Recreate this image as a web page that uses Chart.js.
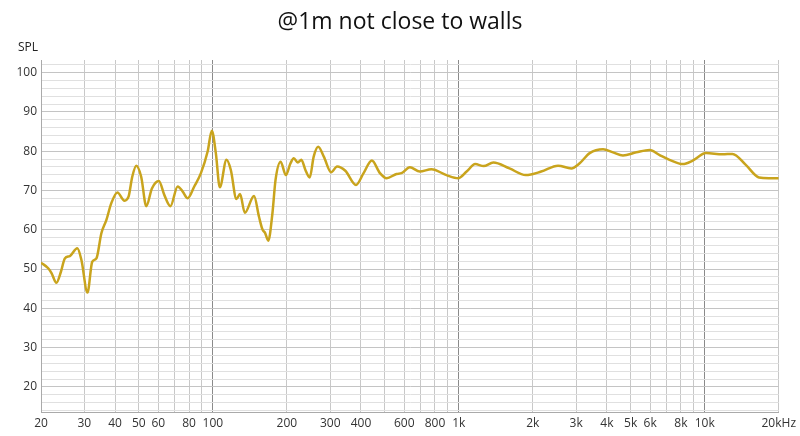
<!DOCTYPE html>
<html>
<head>
<meta charset="utf-8">
<script src="https://cdn.jsdelivr.net/npm/chart.js@4"></script>
<style>
  html, body { margin: 0; padding: 0; background: #fff; }
  #wrap { width: 800px; height: 436px; position: relative; }
</style>
</head>
<body>
<div id="wrap"><canvas id="myChart" width="800" height="436"></canvas></div>
<script>
const freqs = [20, 21.4, 22.1, 23.1, 24.1, 25, 26.2, 28.1, 29.2, 30.9, 32.3, 33.6, 35.2, 36.9, 38.6,
  40.9, 43.7, 45.4, 47, 48.8, 51.1, 53.6, 56.5, 60.3, 63.5, 67.2, 71.9, 75.4, 79, 84, 89.4, 95.2,
  99, 102.8, 106.7, 113.6, 118.3, 124.7, 129, 134.8, 147, 154, 159, 163, 168, 174.5, 179.8, 188.6,
  198, 206.8, 213.3, 221.4, 229, 237.8, 247.6, 257, 268, 282.5, 302.6, 320, 345.6, 381.9, 410,
  443, 478, 509, 558, 585, 632, 694, 774, 891, 995, 1076, 1166, 1262, 1382, 1607, 1872, 2163,
  2533, 2867, 3101, 3406, 3861, 4237, 4650, 5272, 5975, 6556, 7192, 8143, 8934, 10118, 11821,
  12970, 14690, 16620, 18230, 20000];
const spl = [51.6, 50.2, 48.9, 46.5, 49.3, 52.7, 53.3, 55.3, 52.3, 44.0, 51.8, 52.7, 59.1, 62.5, 66.7,
  69.5, 67.4, 68.4, 73.5, 76.3, 73.5, 66.0, 70.5, 72.4, 68.8, 66.0, 71.0, 69.7, 68.0, 71.0, 74.4, 79.9,
  85.2, 79.5, 70.8, 77.8, 75.2, 67.8, 69.1, 64.3, 68.6, 63.3, 60.1, 59.2, 57.2, 64.0, 72.7, 77.3,
  73.9, 76.9, 78.2, 77.1, 77.8, 75.2, 73.3, 78.6, 81.1, 78.6, 74.6, 76.1, 75.0, 71.4, 74.4,
  77.6, 74.4, 73.1, 74.2, 74.4, 75.9, 74.8, 75.4, 73.9, 73.1, 74.8, 76.7, 76.2, 77.1, 75.6, 73.9, 74.8,
  76.3, 75.6, 76.9, 79.5, 80.5, 79.7, 78.9, 79.7, 80.3, 79.0, 77.8, 76.7, 77.6, 79.5, 79.2,
  79.3, 76.5, 73.3, 73.1, 73.1];

// grid lines on the x axis, and which of them carry a label
const xGrid = [20, 30, 40, 50, 60, 70, 80, 90, 100, 200, 300, 400, 500, 600, 700, 800, 900,
  1000, 2000, 3000, 4000, 5000, 6000, 7000, 8000, 9000, 10000, 20000];
const xLabels = { 20: '20', 30: '30', 40: '40', 50: '50', 60: '60', 80: '80', 100: '100', 200: '200',
  300: '300', 400: '400', 600: '600', 800: '800', 1000: '1k', 2000: '2k', 3000: '3k', 4000: '4k',
  5000: '5k', 6000: '6k', 8000: '8k', 10000: '10k', 20000: '20kHz' };
const yGrid = [];
for (let v = 14; v <= 102; v += 2) yGrid.push(v);
const yLabels = [20, 30, 40, 50, 60, 70, 80, 90, 100];

const title = '@1m not close to walls';
const yUnit = 'SPL';

const textPlugin = {
  id: 'texts',
  afterDraw(chart) {
    const ctx = chart.ctx;
    ctx.save();
    ctx.fillStyle = '#111';
    ctx.textAlign = 'center';
    ctx.textBaseline = 'middle';
    ctx.font = '23px "Open Sans"';
    ctx.fillText(title, 400, 22);
    ctx.font = '12px "Open Sans"';
    ctx.fillStyle = '#222';
    ctx.fillText(yUnit, 28, 48);
    ctx.restore();
  }
};

const ctx = document.getElementById('myChart');
new Chart(ctx, {
  type: 'line',
  data: {
    datasets: [{
      data: freqs.map((f, i) => ({ x: f, y: spl[i] })),
      borderColor: '#c9a41d',
      borderWidth: 2.5,
      pointRadius: 0,
      cubicInterpolationMode: 'monotone',
      fill: false
    }]
  },
  options: {
    responsive: false,
    animation: false,
    layout: { padding: { left: 0, right: 18, top: 60, bottom: 0 } },
    plugins: { legend: { display: false }, tooltip: { enabled: false } },
    scales: {
      x: {
        type: 'logarithmic',
        min: 20,
        max: 20000,
        afterBuildTicks: scale => { scale.ticks = xGrid.map(v => ({ value: v })); },
        afterFit: scale => { scale.height = 24; },
        ticks: {
          autoSkip: false,
          maxRotation: 0,
          padding: 4,
          color: '#333',
          font: { family: 'Open Sans', size: 12 },
          callback: v => xLabels[v] || ''
        },
        grid: {
          drawTicks: false,
          color: c => [100, 1000, 10000].includes(c.tick && c.tick.value) ? '#8a8a8a' : '#c8c8c8'
        },
        border: { color: '#aaa' }
      },
      y: {
        min: 13.6,
        max: 103.2,
        afterBuildTicks: scale => { scale.ticks = yGrid.map(v => ({ value: v })); },
        afterFit: scale => { scale.width = 41; },
        ticks: {
          autoSkip: false,
          padding: 4,
          color: '#333',
          font: { family: 'Open Sans', size: 12 },
          callback: v => yLabels.includes(v) ? String(v) : ''
        },
        grid: {
          drawTicks: false,
          color: c => yLabels.includes(c.tick && c.tick.value) ? '#c4c4c4' : '#e0e0e0'
        },
        border: { color: '#aaa' }
      }
    }
  },
  plugins: [textPlugin]
});
</script>
</body>
</html>
